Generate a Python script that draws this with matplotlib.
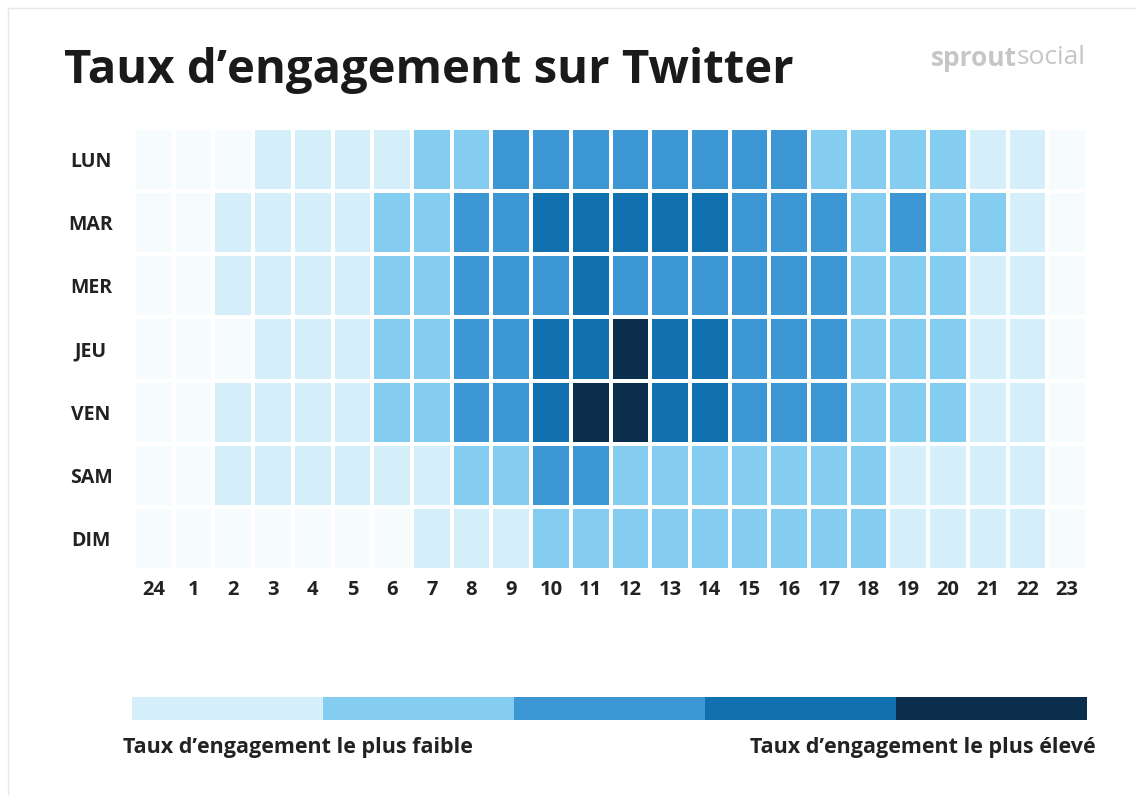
import numpy as np
import matplotlib.pyplot as plt
from matplotlib.colors import ListedColormap, BoundaryNorm
from matplotlib.lines import Line2D

# engagement level per cell (0 = lowest ... 5 = highest)
days = ["LUN", "MAR", "MER", "JEU", "VEN", "SAM", "DIM"]
hours = ["24", "1", "2", "3", "4", "5", "6", "7", "8", "9", "10", "11",
         "12", "13", "14", "15", "16", "17", "18", "19", "20", "21", "22", "23"]
lun = [0, 0, 0, 1, 1, 1, 1, 2, 2, 3, 3, 3, 3, 3, 3, 3, 3, 2, 2, 2, 2, 1, 1, 0]
mar = [0, 0, 1, 1, 1, 1, 2, 2, 3, 3, 4, 4, 4, 4, 4, 3, 3, 3, 2, 3, 2, 2, 1, 0]
mer = [0, 0, 1, 1, 1, 1, 2, 2, 3, 3, 3, 4, 3, 3, 3, 3, 3, 3, 2, 2, 2, 1, 1, 0]
jeu = [0, 0, 0, 1, 1, 1, 2, 2, 3, 3, 4, 4, 5, 4, 4, 3, 3, 3, 2, 2, 2, 1, 1, 0]
ven = [0, 0, 1, 1, 1, 1, 2, 2, 3, 3, 4, 5, 5, 4, 4, 3, 3, 3, 2, 2, 2, 1, 1, 0]
sam = [0, 0, 1, 1, 1, 1, 1, 1, 2, 2, 3, 3, 2, 2, 2, 2, 2, 2, 2, 1, 1, 1, 1, 0]
dim = [0, 0, 0, 0, 0, 0, 0, 1, 1, 1, 2, 2, 2, 2, 2, 2, 2, 2, 2, 1, 1, 1, 1, 0]
legend_levels = [1, 2, 3, 4, 5]

colors = ["#f6fbfe", "#d4eefa", "#84ccf0", "#3c97d4", "#1170b0", "#0b2e4d"]
cmap = ListedColormap(colors)
norm = BoundaryNorm(np.arange(-0.5, 6, 1), cmap.N)

W, H = 1136, 795
plt.rcParams["font.family"] = ["Open Sans", "DejaVu Sans"]
fig = plt.figure(figsize=(W / 100, H / 100), dpi=100)


def box(x0, y0, x1, y1):
    return [x0 / W, 1 - y1 / H, (x1 - x0) / W, (y1 - y0) / H]


text_color = "#222222"
ax = fig.add_axes(box(134, 128, 1087, 570))
grid = np.array([lun, mar, mer, jeu, ven, sam, dim])
ax.pcolormesh(grid, cmap=cmap, norm=norm, edgecolors="white", linewidth=1.6)
ax.set_xlim(0, len(hours))
ax.set_ylim(len(days), 0)
ax.set_xticks(np.arange(len(hours)) + 0.5)
ax.set_xticklabels(hours, fontsize=14.5, fontweight="bold", color=text_color)
ax.set_yticks(np.arange(len(days)) + 0.5)
ax.set_yticklabels(days, fontsize=14, fontweight="bold", color=text_color, ha="center")
ax.tick_params(axis="x", length=0, pad=7)
ax.tick_params(axis="y", length=0, pad=31)
for s in ax.spines.values():
    s.set_visible(False)

# legend bar
lax = fig.add_axes(box(132, 697, 1087, 720))
lax.imshow([legend_levels], cmap=cmap, norm=norm, aspect="auto")
lax.set_axis_off()
fig.text(123 / W, 1 - 747 / H, "Taux d’engagement le plus faible", fontsize=15.5,
         fontweight="bold", color=text_color, ha="left", va="center")
fig.text(1096 / W, 1 - 747 / H, "Taux d’engagement le plus élevé", fontsize=15.5,
         fontweight="bold", color=text_color, ha="right", va="center")

# title
fig.text(64 / W, 1 - 71 / H, "Taux d’engagement sur Twitter", fontsize=34,
         fontweight="bold", color="#1a1a1a", ha="left", va="center")

# logo
logo1 = fig.text(931 / W, 1 - 58 / H, "sprout", fontsize=19, fontweight="bold",
                 color="#c6c6c6", ha="left", va="center")
fig.canvas.draw()
ext = logo1.get_window_extent()
fig.text(ext.x1 / W, 1 - 58 / H, "social", fontsize=19, color="#c6c6c6",
         ha="left", va="center")

# faint frame
fig.add_artist(Line2D([8 / W, 8 / W], [0, 1 - 8 / H], color="#e8e8e8", lw=1))
fig.add_artist(Line2D([8 / W, 1], [1 - 8 / H, 1 - 8 / H], color="#e8e8e8", lw=1))

fig.savefig("out.png", dpi=100, facecolor="white")
